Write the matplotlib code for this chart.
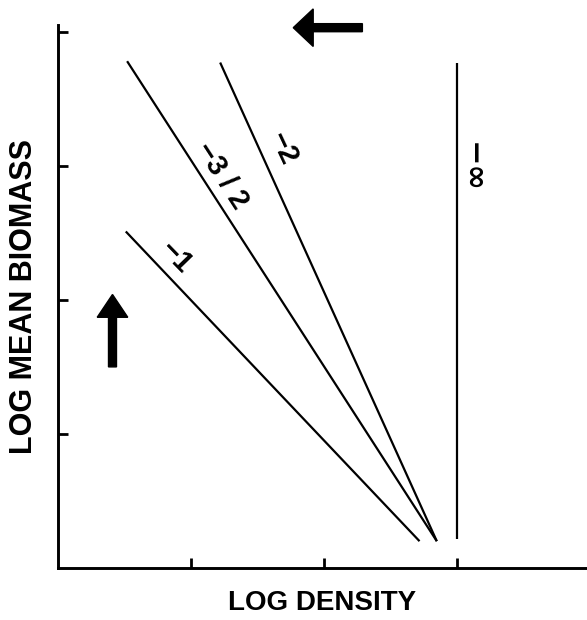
import matplotlib
matplotlib.use("Agg")
import matplotlib.pyplot as plt
from matplotlib.patches import FancyArrow

plt.rcParams['font.family'] = ['Liberation Sans', 'DejaVu Sans']

# log density / log mean biomass, in tick units
x_slope_1 = [0.51, 2.72]
y_slope_1 = [2.51, 0.20]
x_slope_32 = [0.52, 2.85]
y_slope_32 = [3.78, 0.20]
x_slope_2 = [1.22, 2.85]
y_slope_2 = [3.77, 0.20]
x_slope_inf = [3.0, 3.0]
y_slope_inf = [0.22, 3.77]

labels = ['\u22121', '\u22123 / 2', '\u22122', '\u2212\u221e']
label_x = [0.89, 1.23, 1.69, 3.11]
label_y = [2.32, 2.93, 3.13, 2.99]
label_rot = [-46, -57, -65, -90]
label_size = [21, 21, 21, 22]
label_font = ['Liberation Sans', 'Liberation Sans', 'Liberation Sans', 'DejaVu Sans']

xticks = [1, 2, 3]
yticks = [1, 2, 3, 4]

fig = plt.figure(figsize=(5.87, 6.2), dpi=100)
ax = fig.add_axes([58/587, 52/620, 529/587, 543/620])
ax.set_xlim(0, 3.98)
ax.set_ylim(0, 4.05)

for xs, ys in [(x_slope_1, y_slope_1), (x_slope_32, y_slope_32),
               (x_slope_2, y_slope_2), (x_slope_inf, y_slope_inf)]:
    ax.plot(xs, ys, color='black', lw=1.6, solid_capstyle='butt')

for t, x, y, r, s, f in zip(labels, label_x, label_y, label_rot, label_size, label_font):
    ax.text(x, y, t, rotation=r, fontsize=s, fontweight='bold', family=f,
            ha='center', va='center', rotation_mode='anchor')

# direction arrows
ax.add_patch(FancyArrow(2.29, 4.03, -0.52, 0, width=0.06, head_width=0.28,
                        head_length=0.15, length_includes_head=True,
                        color='black', clip_on=False))
ax.add_patch(FancyArrow(0.41, 1.50, 0, 0.54, width=0.06, head_width=0.23,
                        head_length=0.17, length_includes_head=True,
                        color='black', clip_on=False))

ax.spines['top'].set_visible(False)
ax.spines['right'].set_visible(False)
ax.spines['left'].set_linewidth(2.1)
ax.spines['bottom'].set_linewidth(2.1)
ax.set_xticks(xticks)
ax.set_yticks(yticks)
ax.tick_params(direction='in', length=7, width=2, labelbottom=False, labelleft=False)

ax.set_xlabel('LOG DENSITY', fontsize=20, fontweight='bold', labelpad=16)
ax.set_ylabel('LOG MEAN BIOMASS', fontsize=22, fontweight='bold', labelpad=14)

fig.savefig('out.png', dpi=100)
